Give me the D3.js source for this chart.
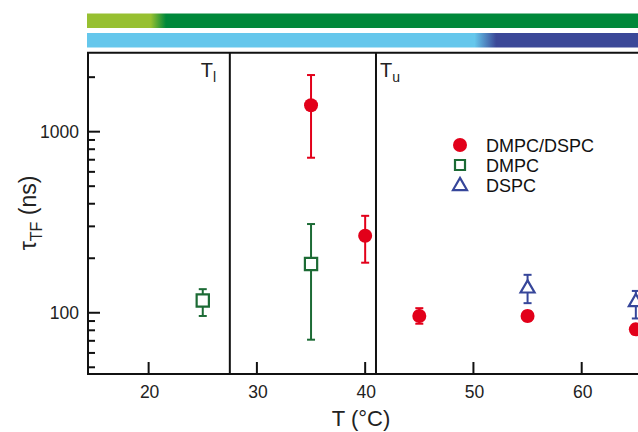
<!DOCTYPE html>
<html><head><meta charset="utf-8">
<script src="https://cdn.jsdelivr.net/npm/d3@7/dist/d3.min.js"></script>
<style>body{margin:0;background:#fff}svg{display:block;font-family:"Liberation Sans",Arial,sans-serif}</style>
</head><body><svg id="c" width="638" height="432"></svg>
<script>
// ---- data ----
const xTicks = [20, 30, 40, 50, 60];
const yMajorTicks = [100, 1000];
const yMinorTicks = [50, 60, 70, 80, 90, 200, 300, 400, 500, 600, 700, 800, 900, 2000];
const transitionTemps = [27.5, 41.0];
const transitionLabels = ["l", "u"];
const mixT = [35, 40, 45, 55, 65];
const mixTau = [1400, 266, 96, 96, 81];
const mixLo = [718, 189, 87, 90, 76];
const mixHi = [2055, 343, 106, 102, 86];
const dmpcT = [25, 35];
const dmpcTau = [117, 186];
const dmpcLo = [96, 71];
const dmpcHi = [135, 309];
const dspcT = [55, 65];
const dspcTau = [138, 116];
const dspcLo = [113, 93];
const dspcHi = [162, 132];
const legendLabels = ["DMPC/DSPC", "DMPC", "DSPC"];
const greenBarStops = [[20.2, "#97c031"], [21.6, "#00883a"]];
const blueBarStops = [[50.1, "#65c7ec"], [52.1, "#3b4898"]];

const RED = "#e2001a", GREEN = "#1c6b35", BLUE = "#36469a";

const svg = d3.select("#c");
const L = 88, R = 638, T = 52.7, B = 374;
const x = d3.scaleLinear().domain([14.4, 65.2]).range([L, R]);
const y = d3.scaleLog().domain([45.9, 2730]).range([B, T]);

// gradient bars
const defs = svg.append("defs");
function grad(id, stops) {
  const g = defs.append("linearGradient").attr("id", id)
    .attr("gradientUnits", "userSpaceOnUse").attr("x1", L).attr("x2", R).attr("y1", 0).attr("y2", 0);
  stops.forEach(s => g.append("stop").attr("offset", (x(s[0]) - L) / (R - L)).attr("stop-color", s[1]));
}
grad("gg", greenBarStops); grad("bg", blueBarStops);
svg.append("rect").attr("x", L - 1).attr("y", 13.5).attr("width", R - L + 1).attr("height", 14.5).attr("fill", "url(#gg)");
svg.append("rect").attr("x", L - 1).attr("y", 33).attr("width", R - L + 1).attr("height", 14.5).attr("fill", "url(#bg)");

// frame
const ax = svg.append("g").attr("stroke", "#111").attr("stroke-width", 2).attr("fill", "none");
ax.append("path").attr("d", `M${R + 5},${T}H${L}V${B}H${R + 5}`);
yMajorTicks.forEach(v => ax.append("line").attr("x1", L).attr("x2", L + 12).attr("y1", y(v)).attr("y2", y(v)));
yMinorTicks.forEach(v => ax.append("line").attr("x1", L).attr("x2", L + 7).attr("y1", y(v)).attr("y2", y(v)));
xTicks.forEach(v => ax.append("line").attr("x1", x(v)).attr("x2", x(v)).attr("y1", B).attr("y2", B - 12));
transitionTemps.forEach(v => ax.append("line").attr("x1", x(v)).attr("x2", x(v)).attr("y1", T).attr("y2", B));

// tick labels
const txt = svg.append("g").attr("fill", "#222").attr("font-size", 17.5);
xTicks.forEach(v => txt.append("text").attr("x", x(v) + 1).attr("y", B + 24).attr("text-anchor", "middle").text(v));
yMajorTicks.forEach(v => txt.append("text").attr("x", L - 9).attr("y", y(v) + 6).attr("text-anchor", "end").text(v));

// axis titles
svg.append("text").attr("x", 361).attr("y", 426).attr("text-anchor", "middle").attr("font-size", 22).attr("fill", "#222").text("T (°C)");
const yl = svg.append("text").attr("transform", "translate(36,213) rotate(-90)").attr("text-anchor", "middle").attr("font-size", 23).attr("fill", "#222");
yl.append("tspan").text("τ");
yl.append("tspan").attr("font-size", 16).attr("dy", 6).text("TF");
yl.append("tspan").attr("dy", -6).text(" (ns)");

// transition labels
const tl = svg.append("text").attr("x", x(transitionTemps[0]) - 29).attr("y", 77).attr("font-size", 20).attr("fill", "#222");
tl.append("tspan").text("T"); tl.append("tspan").attr("font-size", 14).attr("dy", 5).text(transitionLabels[0]);
const tu = svg.append("text").attr("x", x(transitionTemps[1]) + 4).attr("y", 77).attr("font-size", 20).attr("fill", "#222");
tu.append("tspan").text("T"); tu.append("tspan").attr("font-size", 14).attr("dy", 5).text(transitionLabels[1]);

// data
const plot = svg.append("g");
function errBars(T_, lo, hi, color) {
  const g = plot.append("g").attr("stroke", color).attr("stroke-width", 2);
  T_.forEach((t, i) => {
    g.append("line").attr("x1", x(t)).attr("x2", x(t)).attr("y1", y(lo[i])).attr("y2", y(hi[i]));
    g.append("line").attr("x1", x(t) - 4).attr("x2", x(t) + 4).attr("y1", y(lo[i])).attr("y2", y(lo[i]));
    g.append("line").attr("x1", x(t) - 4).attr("x2", x(t) + 4).attr("y1", y(hi[i])).attr("y2", y(hi[i]));
  });
}
errBars(dmpcT, dmpcLo, dmpcHi, GREEN);
errBars(dspcT, dspcLo, dspcHi, BLUE);
errBars(mixT, mixLo, mixHi, RED);

const sq = d3.symbol().type(d3.symbolSquare).size(150);
const tri = d3.symbol().type(d3.symbolTriangle).size(85);
plot.selectAll(".sq").data(dmpcT).join("path").attr("d", sq)
  .attr("transform", (d, i) => `translate(${x(d)},${y(dmpcTau[i])})`)
  .attr("fill", "#fff").attr("stroke", GREEN).attr("stroke-width", 2.2);
plot.selectAll(".tr").data(dspcT).join("path").attr("d", tri)
  .attr("transform", (d, i) => `translate(${x(d)},${y(dspcTau[i]) + 1})`)
  .attr("fill", "#fff").attr("stroke", BLUE).attr("stroke-width", 2.2);
plot.selectAll(".ci").data(mixT).join("circle")
  .attr("cx", d => x(d)).attr("cy", (d, i) => y(mixTau[i])).attr("r", 7).attr("fill", RED);

// legend
const lg = svg.append("g");
const lx = 460, ly = 145, dy = 20;
lg.append("circle").attr("cx", lx).attr("cy", ly).attr("r", 7).attr("fill", RED);
lg.append("path").attr("d", d3.symbol().type(d3.symbolSquare).size(100)).attr("transform", `translate(${lx},${ly + dy})`)
  .attr("fill", "#fff").attr("stroke", GREEN).attr("stroke-width", 2.2);
lg.append("path").attr("d", tri).attr("transform", `translate(${lx},${ly + 2 * dy + 1})`)
  .attr("fill", "#fff").attr("stroke", BLUE).attr("stroke-width", 2.2);
legendLabels.forEach((s, i) => lg.append("text").attr("x", lx + 26).attr("y", ly + i * dy + 6.5)
  .attr("font-size", 18).attr("fill", "#111").text(s));
</script></body></html>
